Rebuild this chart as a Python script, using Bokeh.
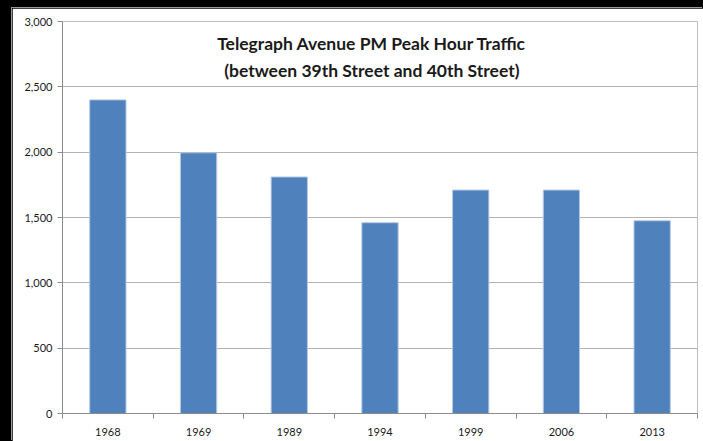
from bokeh.plotting import figure
from bokeh.models import Range1d, FixedTicker, NumeralTickFormatter, Label
from bokeh.embed import file_html
from bokeh.resources import INLINE

# ---- data ----
years = ["1968", "1969", "1989", "1994", "1999", "2006", "2013"]
traffic = [2400, 1995, 1810, 1460, 1710, 1710, 1475]
y_ticks = [0, 500, 1000, 1500, 2000, 2500, 3000]
title_line1 = "Telegraph Avenue PM Peak Hour Traffic"
title_line2 = "(between 39th Street and 40th Street)"

n = len(years)
centers = [i + 0.5 for i in range(n)]
bounds = list(range(n + 1))

p = figure(width=691, height=433, output_backend="svg", toolbar_location=None,
           x_range=Range1d(0, n), y_range=Range1d(0, 3000),
           min_border_left=50, min_border_right=6, min_border_top=13, min_border_bottom=28)
p.background_fill_color = "white"
p.border_fill_color = "white"
p.outline_line_color = None

p.vbar(x=centers, top=traffic, width=0.4, fill_color="#4F81BD",
       line_color="#b4c8e4", line_width=1)

# grid
p.xgrid.grid_line_color = None
p.ygrid.grid_line_color = "#b3b3b3"
p.ygrid.grid_line_width = 1
p.ygrid.ticker = FixedTicker(ticks=y_ticks)

# y axis
p.yaxis.ticker = FixedTicker(ticks=y_ticks)
p.yaxis.formatter = NumeralTickFormatter(format="0,0")
p.yaxis.axis_line_color = "#8c8c8c"
p.yaxis.major_tick_line_color = "#8c8c8c"
p.yaxis.major_tick_out = 5
p.yaxis.major_tick_in = 0
p.yaxis.minor_tick_line_color = None
p.yaxis.major_label_text_font = "Lato"
p.yaxis.major_label_text_font_size = "11px"
p.yaxis.major_label_text_color = "#1a1a1a"
p.yaxis.major_label_standoff = 5

# x axis: labels at centers, ticks at category boundaries
p.xaxis.ticker = FixedTicker(ticks=centers, minor_ticks=bounds)
p.xaxis.major_label_overrides = {c: y for c, y in zip(centers, years)}
p.xaxis.axis_line_color = "#8c8c8c"
p.xaxis.major_tick_line_color = None
p.xaxis.minor_tick_line_color = "#8c8c8c"
p.xaxis.minor_tick_out = 5
p.xaxis.minor_tick_in = 0
p.xaxis.major_label_text_font = "Lato"
p.xaxis.major_label_text_font_size = "11px"
p.xaxis.major_label_text_color = "#1a1a1a"
p.xaxis.major_label_standoff = 8

# title inside plot area
p.add_layout(Label(x=3.41, y=2830, text=title_line1, text_align="center",
                   text_baseline="middle", text_font="Lato", text_font_style="bold",
                   text_font_size="17.5px", text_color="#1a1a1a"))
p.add_layout(Label(x=3.41, y=2625, text=title_line2, text_align="center",
                   text_baseline="middle", text_font="Lato", text_font_style="bold",
                   text_font_size="17.5px", text_color="#1a1a1a"))

p.styles = {"box-shadow": "-1px -1px 0 0 #9a9a9a"}

html = file_html(p, INLINE)
html = html.replace(
    "</head>",
    "<style>html,body{background-color:#000000;} body{padding:8px 0 0 12px !important;}</style></head>",
    1)
open("out.html", "w").write(html)
